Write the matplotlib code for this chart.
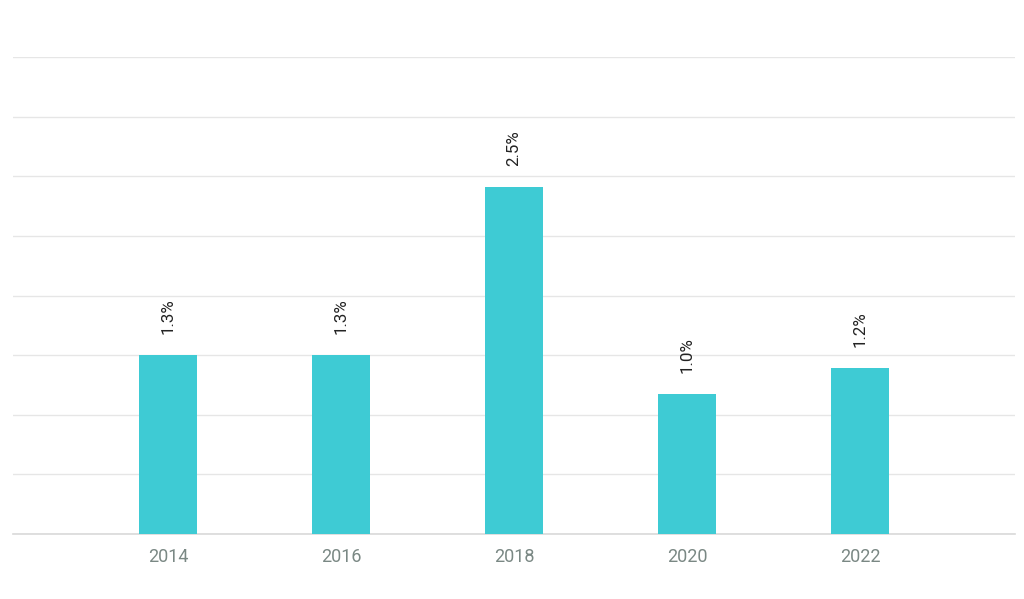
import matplotlib.pyplot as plt
import numpy as np

# data
years = ['2014', '2016', '2018', '2020', '2022']
values = [1.3, 1.3, 2.52, 1.02, 1.21]
labels = ['1.3%', '1.3%', '2.5%', '1.0%', '1.2%']

plt.rcParams['font.family'] = ['Roboto', 'DejaVu Sans']

fig = plt.figure(figsize=(10.24, 5.99), dpi=100)
ax = fig.add_axes([13 / 1024, 1 - 534 / 599, 1002 / 1024, 477 / 599])

x = np.arange(len(years))
ax.bar(x, values, width=0.335, color='#3ecbd4', zorder=3)

step = 1.3 / 3
ax.set_ylim(0, step * 8)
ax.set_xlim(-0.896, len(years) - 1 + 0.896)
ax.set_yticks(np.arange(0, 9) * step)
ax.yaxis.grid(True, color='#e6e6e6', linewidth=1, zorder=0)
ax.tick_params(axis='y', left=False, labelleft=False)

ax.set_xticks(x)
ax.set_xticklabels(years, fontsize=13, color='#7a8884')
ax.tick_params(axis='x', length=0, pad=10)

for s in ['top', 'right', 'left']:
    ax.spines[s].set_visible(False)
ax.spines['bottom'].set_color('#d9d9d9')
ax.spines['bottom'].set_linewidth(1.2)

for xi, v, lab in zip(x, values, labels):
    ax.annotate(lab, (xi, v), xytext=(0, 15), textcoords='offset points',
                rotation=90, ha='center', va='bottom', fontsize=12.2, color='#222222')

fig.savefig('out.png', dpi=100)
